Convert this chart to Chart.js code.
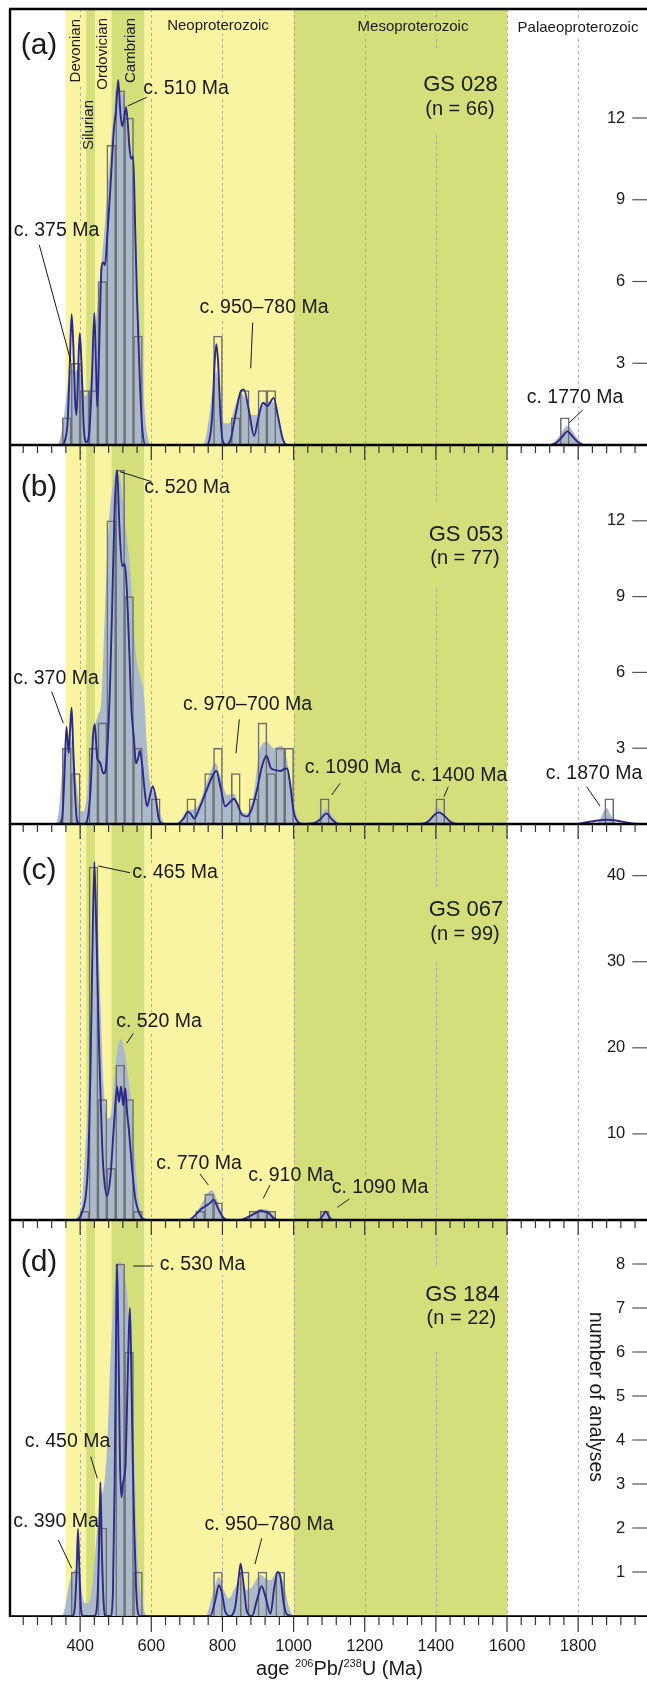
<!DOCTYPE html>
<html>
<head>
<meta charset="utf-8">
<title>U-Pb detrital zircon age spectra</title>
<script src="https://cdn.jsdelivr.net/npm/chart.js@4.4.1/dist/chart.umd.min.js"></script>
<style>
  html, body { margin: 0; padding: 0; background: #fff; overflow: hidden; }
  #wrap { position: relative; width: 647px; height: 1684px; overflow: hidden; background: #fff; }
  #wrap canvas { position: absolute; left: 0; }
</style>
</head>
<body>
<div id="wrap">
  <canvas id="panel-a" width="650" height="447" style="top:0px"></canvas>
  <canvas id="panel-b" width="650" height="383" style="top:443px"></canvas>
  <canvas id="panel-c" width="650" height="400" style="top:822px"></canvas>
  <canvas id="panel-d" width="650" height="466" style="top:1218px"></canvas>
</div>
<script>
// Age axis (Ma)
const AGE_MIN = 200;
const AGE_MAX = 2000;
const BIN_WIDTH = 25;
const xTickLabels = [400, 600, 800, 1000, 1200, 1400, 1600, 1800];

// Geological time bands
const periodNames = ['Devonian', 'Silurian', 'Ordovician', 'Cambrian', 'Neoproterozoic', 'Mesoproterozoic', 'Palaeoproterozoic'];
const periodFrom = [359, 417, 442, 488, 581, 1000, 1600];
const periodTo = [417, 442, 488, 581, 1000, 1600, 2000];

// (a) GS 028
const binsA = [350, 375, 400, 425, 450, 475, 500, 525, 550, 775, 825, 850, 900, 925, 1750];
const countsA = [1, 3, 2, 2, 6, 11, 13, 12, 4, 4, 1, 2, 2, 2, 1];
const yTicksA = [3, 6, 9, 12];
const yMaxA = 16;
const pdpA = [[200,0],[350,0],[358,0.2],[365,0.9],[371,3.0],[376,4.8],[381,3.6],[386,1.6],[390,1.1],[395,3.0],[399,4.1],[404,2.9],[410,0.7],[417,0.1],[426,0.5],[433,2.4],[440,4.85],[444,3.2],[448,1.4],[454,3.8],[460,6.5],[465,6.7],[470,6.6],[476,7.6],[484,9.2],[490,10.6],[495,11.6],[501,12.3],[507,13.4],[513,12.2],[518,11.7],[524,12.0],[529,12.4],[534,11.8],[538,11.0],[543,10.5],[549,10.6],[555,7.8],[560,5.3],[568,2.3],[574,0.7],[584,0],[755,0],[765,0.3],[772,1.2],[778,3.0],[783,3.7],[788,3.0],[794,1.2],[800,0.2],[810,0],[823,0.2],[836,1.06],[852,1.98],[860,2.04],[874,1.3],[889,0.33],[900,0.94],[914,1.55],[926,1.43],[944,1.73],[956,1.06],[970,0.2],[982,0],[1720,0],[1740,0.1],[1755,0.3],[1770,0.5],[1785,0.3],[1800,0.1],[1820,0],[2000,0]];
const kdeA = [[200,0],[335,0],[345,0.3],[355,1.1],[365,2.2],[375,2.8],[385,2.7],[395,2.8],[405,2.4],[415,1.8],[425,2.0],[435,3.2],[445,4.6],[455,6.0],[465,7.4],[475,9.0],[485,10.8],[495,12.2],[505,13.1],[515,13.0],[525,12.6],[535,11.8],[545,10.4],[555,8.0],[565,5.0],[575,2.8],[583,1.0],[592,0.2],[600,0],[745,0],[760,0.8],[772,2.0],[782,2.7],[792,2.0],[805,0.8],[820,0.8],[835,1.4],[850,1.9],[865,1.7],[880,1.1],[895,1.1],[910,1.5],[925,1.6],[940,1.6],[955,1.1],[970,0.3],[985,0],[1720,0],[1745,0.3],[1770,0.7],[1795,0.3],[1820,0],[2000,0]];

// (b) GS 053
const binsB = [350, 375, 425, 450, 475, 500, 525, 550, 600, 700, 750, 775, 825, 875, 900, 925, 950, 975, 1075, 1400, 1875];
const countsB = [3, 2, 3, 4, 12, 14, 9, 3, 1, 1, 2, 3, 2, 1, 4, 2, 3, 3, 1, 1, 1];
const yTicksB = [3, 6, 9, 12];
const yMaxB = 15;
const pdpB = [[200,0],[340,0],[350,0.3],[356,2.0],[361.5,3.85],[368,2.8],[372,3.8],[376,4.6],[380,3.2],[384,1.7],[391,0.15],[398,0],[412,0],[420,0.15],[429,1.3],[436,3.45],[441,3.95],[448,2.6],[452,2.5],[457,2.4],[465,2.0],[471,2.1],[478,3.4],[484,5.5],[490,8.6],[497,12.5],[504,14.0],[510,11.9],[518,10.2],[525,10.3],[530,9.6],[537,7.3],[544,4.6],[551,3.4],[557,2.4],[563,2.6],[568,2.9],[574,2.4],[580,1.5],[588,0.7],[596,1.1],[604,1.5],[612,1.1],[621,0.2],[635,0],[672,0],[691,0.22],[703,0.49],[710,0.42],[721,0.22],[733,0.55],[752,1.21],[771,1.87],[783,2.1],[794,1.5],[808,0.7],[822,0.88],[832,1.0],[841,0.82],[855,0.36],[869,0.3],[883,0.62],[897,1.34],[911,2.27],[924,2.7],[935,2.24],[949,2.13],[963,2.1],[972,2.16],[982,2.2],[991,1.5],[1000,0.5],[1015,0.05],[1030,0],[1057,0.03],[1075,0.18],[1092,0.42],[1108,0.18],[1127,0],[1360,0],[1380,0.12],[1395,0.35],[1408,0.46],[1422,0.35],[1440,0.1],[1460,0],[1790,0],[1820,0.06],[1850,0.13],[1880,0.17],[1910,0.13],[1940,0.05],[1965,0],[2000,0]];
const kdeB = [[200,0],[330,0],[340,0.5],[350,2.2],[360,3.1],[370,3.4],[380,3.0],[390,1.6],[400,0.5],[410,0.5],[420,1.3],[430,2.8],[440,3.8],[450,4.3],[460,5.0],[470,8.5],[480,11.8],[490,13.2],[500,13.9],[510,13.8],[520,12.8],[530,11.5],[540,10.2],[550,8.0],[560,6.4],[570,5.8],[580,5.0],[588,3.0],[596,1.7],[605,1.3],[615,0.9],[625,0.4],[640,0],[670,0],[700,0.5],[730,0.7],[757,1.7],[780,2.4],[794,1.9],[813,1.15],[832,1.2],[851,0.55],[869,0.42],[888,1.2],[907,3.05],[925,3.25],[944,3.0],[963,3.1],[977,2.85],[991,1.75],[1005,0.55],[1020,0],[1050,0],[1075,0.3],[1092,0.6],[1110,0.3],[1130,0],[1365,0],[1390,0.3],[1405,0.65],[1420,0.4],[1445,0.05],[1460,0],[1845,0],[1860,0.15],[1872,0.5],[1880,0.63],[1890,0.4],[1905,0.05],[1915,0],[2000,0]];

// (c) GS 067
const binsC = [400, 425, 450, 475, 500, 525, 550, 725, 750, 775, 875, 900, 925, 1075];
const countsC = [1, 41, 14, 6, 18, 14, 1, 1, 3, 2, 1, 1, 1, 1];
const yTicksC = [10, 20, 30, 40];
const yMaxC = 46;
const pdpC = [[200,0],[390,0],[401,0.4],[410,1.5],[416,2.8],[421,5.5],[425,10],[429,17],[434,30],[440,41.6],[444,36],[448,29.4],[452,22],[457,15],[462,8.5],[468,4.5],[476,2.8],[485,5.0],[495,11],[504,15.5],[509,13.7],[515,15.5],[521,13.3],[527,15.3],[532,12.5],[537,10.5],[546,6.0],[555,2.5],[565,0.9],[574,0.2],[588,0],[705,0],[724,0.6],[738,1.2],[752,1.6],[766,2.0],[776,2.35],[785,1.6],[794,0.8],[804,0.2],[815,0],[850,0],[874,0.4],[893,0.8],[907,1.1],[916,1.0],[930,0.8],[944,0.2],[956,0],[1070,0],[1082,0.5],[1090,1.0],[1098,0.5],[1110,0],[2000,0]];
const kdeC = [[200,0],[385,0],[395,0.6],[403,1.2],[408,3.5],[414,8],[421,13],[427,20],[434,32],[440,41],[446,38],[450,34],[457,25.5],[466,15.7],[476,11.8],[485,12.0],[495,15.7],[504,19.6],[515,21],[525,19.5],[537,16],[546,12.5],[555,6.8],[565,2.0],[579,0.2],[592,0],[710,0],[729,1.0],[748,2.35],[762,3.3],[771,3.45],[785,2.35],[799,0.8],[815,0],[855,0],[879,0.6],[902,1.2],[921,1.25],[940,0.8],[956,0],[1070,0],[1082,0.5],[1090,1.0],[1098,0.5],[1110,0],[2000,0]];

// (d) GS 184
const binsD = [375, 450, 500, 525, 550, 775, 850, 900, 950];
const countsD = [1, 2, 8, 6, 1, 1, 1, 1, 1];
const yTicksD = [1, 2, 3, 4, 5, 6, 7, 8];
const yMaxD = 9;
const pdpD = [[200,0],[378,0],[385,0.2],[390,1.0],[394,1.98],[398,1.0],[402,0.2],[408,0],[440,0],[448,0.3],[453,1.5],[457,3.04],[461,1.5],[466,0.3],[472,0],[485,0],[492,0.5],[497,3.0],[501,6.5],[504,8.0],[508,6.0],[512,3.5],[516,2.7],[520,3.0],[524,3.15],[528,3.5],[533,5.2],[537,6.5],[540,7.0],[544,5.5],[548,3.5],[552,2.0],[557,0.7],[562,0.1],[568,0],[766,0],[780,0.36],[790,0.7],[799,0.51],[808,0.1],[822,0],[836,0.21],[846,0.89],[851,1.19],[858,0.81],[869,0.1],[883,0],[897,0.36],[910,0.68],[921,0.44],[935,0.05],[946,0.66],[955,1.0],[963,0.89],[972,0.3],[982,0.03],[1000,0],[2000,0]];
const kdeD = [[200,0],[348,0],[356,0.15],[363,0.45],[370,0.75],[380,1.0],[390,1.05],[400,0.8],[412,0.3],[424,0.3],[438,1.0],[448,2.0],[457,2.7],[466,2.9],[476,3.9],[485,5.8],[495,7.3],[504,7.98],[513,8.05],[523,7.8],[532,7.3],[541,6.2],[551,3.9],[560,1.64],[570,0.5],[579,0.14],[593,0],[750,0],[757,0.05],[776,0.59],[790,0.89],[804,0.59],[818,0.4],[832,0.59],[851,0.81],[869,0.59],[883,0.66],[907,0.93],[921,0.85],[935,0.81],[954,1.0],[972,0.74],[987,0.21],[1000,0],[2000,0]];

// Styles
const FONT = '"Liberation Sans", Arial, Helvetica, sans-serif';
const INK = '#1a1a1a';
const YELLOW = '#f8f4a2';
const GREEN = '#d4de7b';
const periodFill = [YELLOW, GREEN, YELLOW, GREEN, YELLOW, GREEN, null];
const KDE_FILL = '#abbacb';
const PDP_LINE = '#2c2a88';
const BAR_EDGE = '#6f6f6f';

// Panel layout (page pixel coordinates for annotations)
const panels = [
  {
    id: 'panel-a', top: 0, padTop: 9, padBottom: 2,
    bins: binsA, counts: countsA, pdp: pdpA, kde: kdeA, yTicks: yTicksA, yMax: yMaxA,
    topTicks: false, bottomAxis: false,
    texts: [
      { t: '(a)', x: 39, y: 46, size: 30, bg: false },
      { t: 'Devonian', x: 76, y: 19, size: 15, rot: -90, align: 'right' },
      { t: 'Silurian', x: 89, y: 100, size: 15, rot: -90, align: 'right' },
      { t: 'Ordovician', x: 102.5, y: 18, size: 15, rot: -90, align: 'right' },
      { t: 'Cambrian', x: 131, y: 18, size: 15, rot: -90, align: 'right' },
      { t: 'Neoproterozoic', x: 218, y: 26, size: 15 },
      { t: 'Mesoproterozoic', x: 413, y: 27, size: 15 },
      { t: 'Palaeoproterozoic', x: 578, y: 28, size: 15 },
      { t: 'GS 028', x: 460.5, y: 85, size: 22, padY: 24 },
      { t: '(n = 66)', x: 460, y: 109, size: 20, padY: 14 },
      { t: 'c. 375 Ma', x: 56.5, y: 231 },
      { t: 'c. 510 Ma', x: 186, y: 88.5 },
      { t: 'c. 950\u2013780 Ma', x: 264, y: 308 },
      { t: 'c. 1770 Ma', x: 575, y: 397.5 }
    ],
    leaders: [[39.3, 245, 71, 361.7], [146.7, 97.3, 127.7, 106], [252.7, 322.7, 250.7, 368.3], [582.7, 410, 569.3, 422.7]]
  },
  {
    id: 'panel-b', top: 443, padTop: 2, padBottom: 2,
    bins: binsB, counts: countsB, pdp: pdpB, kde: kdeB, yTicks: yTicksB, yMax: yMaxB,
    topTicks: true, bottomAxis: false,
    texts: [
      { t: '(b)', x: 39, y: 487.5, size: 30, bg: false },
      { t: 'GS 053', x: 466, y: 534.5, size: 22, padY: 20 },
      { t: '(n = 77)', x: 465, y: 558, size: 20, padY: 22 },
      { t: 'c. 520 Ma', x: 187, y: 488 },
      { t: 'c. 370 Ma', x: 56, y: 679 },
      { t: 'c. 970\u2013700 Ma', x: 247.5, y: 705 },
      { t: 'c. 1090 Ma', x: 353, y: 768 },
      { t: 'c. 1400 Ma', x: 459, y: 776 },
      { t: 'c. 1870 Ma', x: 594, y: 774 }
    ],
    leaders: [[120, 471.7, 151.7, 481.7], [51.7, 691.7, 63.3, 723.3], [239.3, 719.3, 236, 753.3], [340, 783.3, 331.7, 795], [448.3, 786.7, 444, 796.7], [586.7, 786.7, 600, 806]]
  },
  {
    id: 'panel-c', top: 822, padTop: 2, padBottom: 2,
    bins: binsC, counts: countsC, pdp: pdpC, kde: kdeC, yTicks: yTicksC, yMax: yMaxC,
    topTicks: true, bottomAxis: false,
    texts: [
      { t: '(c)', x: 39, y: 871, size: 30, bg: false },
      { t: 'GS 067', x: 466, y: 909.5, size: 22, padY: 12 },
      { t: '(n = 99)', x: 465, y: 934, size: 20, padY: 18 },
      { t: 'c. 465 Ma', x: 175, y: 873 },
      { t: 'c. 520 Ma', x: 159, y: 1021.5 },
      { t: 'c. 770 Ma', x: 199, y: 1164 },
      { t: 'c. 910 Ma', x: 291, y: 1176 },
      { t: 'c. 1090 Ma', x: 380, y: 1188 }
    ],
    leaders: [[98.3, 866, 130, 872.7], [133.3, 1033.3, 126.7, 1043.3], [200, 1174, 208.3, 1185], [270, 1185, 263.3, 1198.3], [349.3, 1199, 337.3, 1207.3]]
  },
  {
    id: 'panel-d', top: 1218, padTop: 2, padBottom: 68,
    bins: binsD, counts: countsD, pdp: pdpD, kde: kdeD, yTicks: yTicksD, yMax: yMaxD,
    topTicks: true, bottomAxis: true,
    texts: [
      { t: '(d)', x: 39, y: 1262.5, size: 30, bg: false },
      { t: 'GS 184', x: 462.5, y: 1294.5, size: 22, padY: 20 },
      { t: '(n = 22)', x: 461.3, y: 1318.5, size: 20, padY: 24 },
      { t: 'c. 530 Ma', x: 202.5, y: 1265 },
      { t: 'c. 450 Ma', x: 67.5, y: 1442 },
      { t: 'c. 390 Ma', x: 56, y: 1522 },
      { t: 'c. 950\u2013780 Ma', x: 269, y: 1525 },
      { t: 'number of analyses', x: 595.5, y: 1397, size: 19.5, rot: 90, bg: false }
    ],
    leaders: [[133.3, 1266, 153.3, 1266], [90.7, 1456.7, 97.3, 1478.3], [58.3, 1540, 71.7, 1568.3], [261.7, 1538.3, 255, 1564]]
  }
];

function toPoints(pairs) {
  return pairs.map(p => ({ x: p[0], y: p[1] }));
}

// Fill the time bands between two pixel rows
function drawBands(ctx, x, top, bottom, left, right) {
  periodFrom.forEach((from, i) => {
    const fill = periodFill[i];
    if (!fill) return;
    const x0 = Math.max(x.getPixelForValue(from), left);
    const x1 = Math.min(x.getPixelForValue(periodTo[i]), right);
    if (x1 <= x0) return;
    ctx.fillStyle = fill;
    ctx.fillRect(x0, top, x1 - x0, bottom - top);
  });
}

// Whole-pixel box behind a label, so the dashed grid stops at the text
function textBox(ctx, item) {
  const size = item.size || 19.5;
  ctx.font = `${size}px ${FONT}`;
  const w = ctx.measureText(item.t).width;
  const h = size * 0.85;
  const pad = item.padY || 1;
  let b;
  if (item.rot === -90) {
    b = { x: item.x - h / 2 - 1, y: item.y - 1, w: h + 2, h: w + 2 };
  } else {
    b = { x: item.x - w / 2 - 3, y: item.y - h / 2 - pad, w: w + 6, h: h + pad * 2 };
  }
  const x0 = Math.floor(b.x), y0 = Math.floor(b.y);
  return { x: x0, y: y0, w: Math.ceil(b.x + b.w) - x0, h: Math.ceil(b.y + b.h) - y0 };
}

function drawText(ctx, item, offsetY) {
  const size = item.size || 19.5;
  ctx.save();
  ctx.font = `${size}px ${FONT}`;
  ctx.fillStyle = INK;
  ctx.textBaseline = 'middle';
  ctx.textAlign = item.align || 'center';
  ctx.translate(item.x, item.y - offsetY);
  if (item.rot) ctx.rotate(item.rot * Math.PI / 180);
  ctx.fillText(item.t, 0, 0);
  ctx.restore();
}

function drawAgeTicks(ctx, x, yEdge) {
  ctx.strokeStyle = '#333';
  ctx.lineWidth = 1.2;
  for (let age = AGE_MIN + 40; age < AGE_MAX; age += 40) {
    const px = x.getPixelForValue(age);
    const len = age % 200 === 0 ? 15 : 8;
    ctx.beginPath();
    ctx.moveTo(px, yEdge);
    ctx.lineTo(px, yEdge + len);
    ctx.stroke();
  }
}

const panelDecor = {
  id: 'panelDecor',
  beforeDatasetsDraw(chart, args, opts) {
    const { ctx, chartArea: area, scales: { x } } = chart;
    ctx.save();
    drawBands(ctx, x, area.top, area.bottom, area.left, area.right);

    // dashed age grid
    ctx.strokeStyle = '#a3a3a3';
    ctx.lineWidth = 0.9;
    ctx.setLineDash([3, 3]);
    xTickLabels.forEach(age => {
      const px = Math.round(x.getPixelForValue(age)) + 0.5;
      ctx.beginPath();
      ctx.moveTo(px, area.top);
      ctx.lineTo(px, area.bottom);
      ctx.stroke();
    });
    ctx.setLineDash([]);

    // label backgrounds hide the grid under text
    opts.texts.forEach(item => {
      if (item.bg === false) return;
      const b = textBox(ctx, item);
      const by = b.y - opts.top;
      const gx = xTickLabels.some(age => {
        const px = x.getPixelForValue(age);
        return px > b.x && px < b.x + b.w;
      });
      if (!gx) return;
      ctx.save();
      ctx.beginPath();
      ctx.rect(b.x, by, b.w, b.h);
      ctx.clip();
      ctx.fillStyle = '#fff';
      ctx.fillRect(b.x, by, b.w, b.h);
      drawBands(ctx, x, by - 2, by + b.h + 2, area.left, area.right);
      ctx.restore();
    });

    if (opts.bottomAxis) {
      ctx.strokeStyle = '#000';
      ctx.lineWidth = 2.2;
      ctx.beginPath();
      ctx.moveTo(area.left, area.bottom);
      ctx.lineTo(area.right, area.bottom);
      ctx.stroke();
    }
    ctx.restore();
  },
  afterDatasetsDraw(chart, args, opts) {
    const { ctx, chartArea: area, scales: { x, y } } = chart;
    ctx.save();

    // frame
    ctx.strokeStyle = '#000';
    ctx.lineWidth = 2.4;
    ctx.beginPath();
    ctx.moveTo(area.left, area.top);
    ctx.lineTo(area.right, area.top);
    ctx.moveTo(area.left + 1, area.top);
    ctx.lineTo(area.left + 1, area.bottom + 1);
    ctx.stroke();

    if (opts.topTicks) drawAgeTicks(ctx, x, area.top);
    if (opts.bottomAxis) {
      drawAgeTicks(ctx, x, area.bottom + 1);
      ctx.font = `16.5px ${FONT}`;
      ctx.fillStyle = INK;
      ctx.textAlign = 'center';
      ctx.textBaseline = 'middle';
      xTickLabels.forEach(age => {
        ctx.fillText(String(age), x.getPixelForValue(age), area.bottom + 30);
      });
      drawAxisTitle(ctx, 339.5, 1675 - opts.top);
    }

    // count axis on the right, ticks pointing inward
    ctx.strokeStyle = '#555';
    ctx.lineWidth = 1.2;
    ctx.font = `16.5px ${FONT}`;
    ctx.fillStyle = INK;
    ctx.textAlign = 'right';
    ctx.textBaseline = 'middle';
    opts.yTicks.forEach(v => {
      const py = y.getPixelForValue(v);
      ctx.beginPath();
      ctx.moveTo(area.right - 17, py);
      ctx.lineTo(area.right, py);
      ctx.stroke();
      ctx.fillText(String(v), area.right - 24, py);
    });

    // leader lines and labels
    ctx.strokeStyle = INK;
    ctx.lineWidth = 1;
    opts.leaders.forEach(l => {
      ctx.beginPath();
      ctx.moveTo(l[0], l[1] - opts.top);
      ctx.lineTo(l[2], l[3] - opts.top);
      ctx.stroke();
    });
    opts.texts.forEach(item => drawText(ctx, item, opts.top));
    ctx.restore();
  }
};

// age 206Pb/238U (Ma) with superscript mass numbers
function drawAxisTitle(ctx, cx, baseline) {
  const parts = [
    { t: 'age ', size: 20, rise: 0 },
    { t: '206', size: 11, rise: 8 },
    { t: 'Pb/', size: 20, rise: 0 },
    { t: '238', size: 11, rise: 8 },
    { t: 'U (Ma)', size: 20, rise: 0 }
  ];
  let total = 0;
  parts.forEach(p => {
    ctx.font = `${p.size}px ${FONT}`;
    p.w = ctx.measureText(p.t).width;
    total += p.w;
  });
  let px = cx - total / 2;
  ctx.fillStyle = INK;
  ctx.textAlign = 'left';
  ctx.textBaseline = 'alphabetic';
  parts.forEach(p => {
    ctx.font = `${p.size}px ${FONT}`;
    ctx.fillText(p.t, px, baseline - p.rise);
    px += p.w;
  });
}

function buildPanel(panel) {
  const canvas = document.getElementById(panel.id);
  return new Chart(canvas, {
    type: 'bar',
    data: {
      datasets: [
        {
          type: 'line',
          label: 'KDE',
          data: toPoints(panel.kde),
          fill: 'origin',
          backgroundColor: KDE_FILL,
          borderWidth: 0,
          pointRadius: 0,
          cubicInterpolationMode: 'monotone',
          order: 3
        },
        {
          type: 'bar',
          label: 'Histogram',
          data: panel.bins.map((b, i) => ({ x: b + BIN_WIDTH / 2, y: panel.counts[i] })),
          backgroundColor: 'rgba(0,0,0,0)',
          borderColor: BAR_EDGE,
          borderWidth: 0.9,
          barPercentage: 1,
          categoryPercentage: 1,
          grouped: false,
          order: 2
        },
        {
          type: 'line',
          label: 'PDP',
          data: toPoints(panel.pdp),
          borderColor: PDP_LINE,
          borderWidth: 1.9,
          pointRadius: 0,
          fill: false,
          cubicInterpolationMode: 'monotone',
          order: 1
        }
      ]
    },
    options: {
      responsive: false,
      animation: false,
      devicePixelRatio: 1,
      events: [],
      layout: { padding: { left: 9, right: 0.7, top: panel.padTop, bottom: panel.padBottom } },
      scales: {
        x: { type: 'linear', min: AGE_MIN, max: AGE_MAX, offset: false, display: false, ticks: { stepSize: 200 } },
        y: { type: 'linear', min: 0, max: panel.yMax, display: false }
      },
      plugins: {
        legend: { display: false },
        tooltip: { enabled: false },
        panelDecor: {
          top: panel.top,
          topTicks: panel.topTicks,
          bottomAxis: panel.bottomAxis,
          yTicks: panel.yTicks,
          texts: panel.texts,
          leaders: panel.leaders
        }
      }
    },
    plugins: [panelDecor]
  });
}

panels.forEach(buildPanel);
</script>
</body>
</html>
